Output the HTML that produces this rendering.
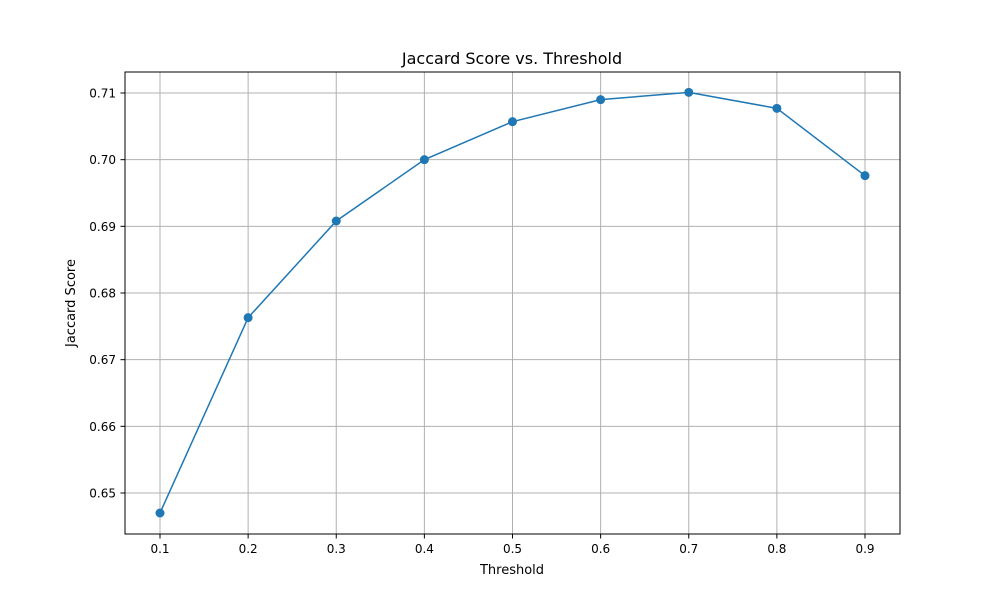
<!DOCTYPE html>
<html><head><meta charset="utf-8"><style>
body{margin:0;background:#fff;}
svg text{font-family:"DejaVu Sans","Liberation Sans",sans-serif;fill:#000;}
</style></head><body>
<svg id="chart" width="1000" height="600" xmlns="http://www.w3.org/2000/svg">
<rect width="1000" height="600" fill="#fff"/>
<g id="grid"></g>
<g id="ticks"></g>
<g id="series"></g>
<rect x="125" y="72" width="775" height="462" fill="none" stroke="#000" stroke-width="1"/>
<text x="512" y="64" font-size="16" text-anchor="middle">Jaccard Score vs. Threshold</text>
<text x="512" y="574" font-size="13" text-anchor="middle">Threshold</text>
<text x="75" y="303" font-size="13" text-anchor="middle" transform="rotate(-90 75 303)">Jaccard Score</text>
</svg>
<script>
const thresholds=[0.1,0.2,0.3,0.4,0.5,0.6,0.7,0.8,0.9];
const scores=[0.6470,0.6763,0.6908,0.7000,0.7057,0.7090,0.7101,0.7077,0.6976];
const xTicks=[0.1,0.2,0.3,0.4,0.5,0.6,0.7,0.8,0.9];
const yTicks=[0.65,0.66,0.67,0.68,0.69,0.70,0.71];
const NS="http://www.w3.org/2000/svg";
function xs(v){return 160+(v-0.1)*(865-160)/0.8;}
function ys(v){return 493-(v-0.65)*(493-93)/0.06;}
function mk(t,a,p){const e=document.createElementNS(NS,t);for(const k in a)e.setAttribute(k,a[k]);p.appendChild(e);return e;}
const g=document.getElementById('grid'),tk=document.getElementById('ticks'),s=document.getElementById('series');
xTicks.forEach(v=>{const x=xs(v);
 const l=mk('line',{x1:x,x2:x,y1:72,y2:534,stroke:'#b0b0b0','stroke-width':1},g);
 
 
 const t=mk('line',{x1:x,x2:x,y1:534,y2:538.5,stroke:'#000'},tk);
 
 
 const tx=mk('text',{x:x,y:553,'font-size':12,'text-anchor':'middle'},tk);tx.textContent=v.toFixed(1);
 
 
});
yTicks.forEach(v=>{const y=ys(v);
 const l=mk('line',{x1:125,x2:900,y1:y,y2:y,stroke:'#b0b0b0','stroke-width':1},g);
 
 
 const t=mk('line',{x1:120.5,x2:125,y1:y,y2:y,stroke:'#000'},tk);
 
 
 const tx=mk('text',{x:116,y:y+4.5,'font-size':12,'text-anchor':'end'},tk);tx.textContent=v.toFixed(2);
 
 
});
const pts=thresholds.map((t,i)=>xs(t)+','+ys(scores[i])).join(' ');
const pl=mk('polyline',{points:pts,fill:'none',stroke:'#1f77b4','stroke-width':1.5},s);


thresholds.forEach((t,i)=>{
 const c=mk('circle',{cx:xs(t),cy:ys(scores[i]),r:4.5,fill:'#1f77b4'},s);
 
 
});
</script>
</body></html>
